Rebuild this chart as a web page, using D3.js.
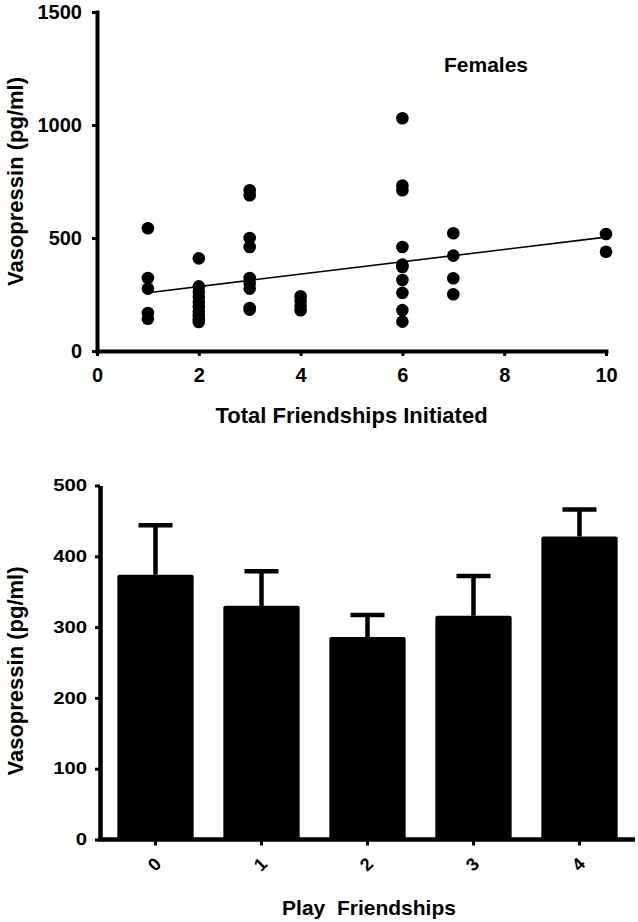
<!DOCTYPE html>
<html>
<head>
<meta charset="utf-8">
<script src="https://cdn.jsdelivr.net/npm/d3@7"></script>
<style>
  html, body { margin: 0; padding: 0; background: #fff; }
  svg { display: block; }
  text { font-family: "Liberation Sans", Arial, Helvetica, sans-serif; font-weight: bold; fill: #000; }
</style>
</head>
<body>
<svg id="chart" width="638" height="922"></svg>
<script>
// ---------- Data: top scatter (Females) ----------
const scatterX = [1,1,1,1,1,
                  2,2,2,2,2,2,2,2,2,2,
                  3,3,3,3,3,3,3,3,3,
                  4,4,4,4,
                  6,6,6,6,6,6,6,6,6,6,
                  7,7,7,7,
                  10,10];
const scatterY = [543,323,276,168,143,
                  410,286,262,240,218,197,175,155,140,128,
                  711,689,500,460,323,300,276,190,183,
                  242,222,200,180,
                  1030,732,711,460,382,372,314,257,181,130,
                  521,422,322,251,
                  518,439];
const fitX = [1, 10];
const fitY = [258, 504];
const scatterXTicks = [0, 2, 4, 6, 8, 10];
const scatterYTicks = [0, 500, 1000, 1500];

// ---------- Data: bottom bar chart ----------
const barCategories = ["0", "1", "2", "3", "4"];
const barMeans = [374, 330, 286, 316, 428];
const barErrors = [70, 49, 31, 56, 38];
const barYTicks = [0, 100, 200, 300, 400, 500];

const svg = d3.select("#chart");

// ================= TOP CHART =================
const xT = d3.scaleLinear().domain([0, 10]).range([97, 606]);
const yT = d3.scaleLinear().domain([0, 1500]).range([351, 12]);
const gTop = svg.append("g");

const yAxisT = gTop.append("g").attr("transform", `translate(${xT(0)},0)`)
  .call(d3.axisLeft(yT).tickValues(scatterYTicks).tickSize(5).tickSizeOuter(0).tickPadding(10).tickFormat(d3.format("d")));
const xAxisT = gTop.append("g").attr("transform", `translate(0,${yT(0)})`)
  .call(d3.axisBottom(xT).tickValues(scatterXTicks).tickSize(5).tickSizeOuter(0).tickPadding(12).tickFormat(d3.format("d")));
[yAxisT, xAxisT].forEach(a => {
  a.select(".domain").attr("stroke", "#000").attr("stroke-width", 4).attr("stroke-linecap", "square");
  a.selectAll(".tick line").attr("stroke", "#000").attr("stroke-width", 3);
  a.selectAll(".tick text").style("font-size", "20px").attr("fill", "#000");
});

// regression line
gTop.append("line")
  .attr("x1", xT(fitX[0])).attr("y1", yT(fitY[0]))
  .attr("x2", xT(fitX[1])).attr("y2", yT(fitY[1]))
  .attr("stroke", "#000").attr("stroke-width", 1.6);

// points
gTop.append("g").selectAll("circle")
  .data(scatterX.map((x, i) => [x, scatterY[i]]))
  .join("circle")
  .attr("cx", d => xT(d[0])).attr("cy", d => yT(d[1]))
  .attr("r", 6.3).attr("fill", "#000");

// labels
gTop.append("text").attr("x", 486).attr("y", 72).attr("text-anchor", "middle")
  .style("font-size", "21px").text("Females");
gTop.append("text").attr("x", (xT(0) + xT(10)) / 2).attr("y", 423).attr("text-anchor", "middle")
  .style("font-size", "22px").text("Total Friendships Initiated");
gTop.append("text").attr("transform", `translate(23,${(yT(0) + yT(1500)) / 2}) rotate(-90)`)
  .attr("text-anchor", "middle").style("font-size", "22px").text("Vasopressin (pg/ml)");

// ================= BOTTOM CHART =================
const xB = d3.scaleBand().domain(barCategories).range([102.5, 632.5]).paddingInner(0.28).paddingOuter(0.14);
const yB = d3.scaleLinear().domain([0, 500]).range([839.5, 485.5]);
const gBot = svg.append("g");
const barData = barCategories.map((c, i) => ({ c, m: barMeans[i], e: barErrors[i] }));

// bars
gBot.append("g").selectAll("rect")
  .data(barData)
  .join("rect")
  .attr("x", d => xB(d.c)).attr("width", xB.bandwidth())
  .attr("y", d => yB(d.m)).attr("height", d => yB(0) - yB(d.m))
  .attr("rx", 2).attr("fill", "#000");

// error bars
const eb = gBot.append("g").selectAll("g").data(barData).join("g");
eb.append("line")
  .attr("x1", d => xB(d.c) + xB.bandwidth() / 2).attr("x2", d => xB(d.c) + xB.bandwidth() / 2)
  .attr("y1", d => yB(d.m)).attr("y2", d => yB(d.m + d.e))
  .attr("stroke", "#000").attr("stroke-width", 4.5);
eb.append("line")
  .attr("x1", d => xB(d.c) + xB.bandwidth() / 2 - 17).attr("x2", d => xB(d.c) + xB.bandwidth() / 2 + 17)
  .attr("y1", d => yB(d.m + d.e)).attr("y2", d => yB(d.m + d.e))
  .attr("stroke", "#000").attr("stroke-width", 4.5);

// y axis
const yAxisB = gBot.append("g").attr("transform", "translate(100,0)")
  .call(d3.axisLeft(yB).tickValues(barYTicks).tickSize(5).tickSizeOuter(0).tickPadding(8).tickFormat(d3.format("d")));
yAxisB.select(".domain").attr("stroke", "#000").attr("stroke-width", 4.5);
yAxisB.selectAll(".tick line").attr("stroke", "#000").attr("stroke-width", 3);
yAxisB.selectAll(".tick text")
  .style("font-size", "16px").attr("fill", "#000")
  .attr("x", 0).attr("transform", "translate(-13,0) scale(1.27,1)");

// x axis
const xAxisB = gBot.append("g").attr("transform", `translate(0,${yB(0)})`)
  .call(d3.axisBottom(xB).tickSize(6).tickSizeOuter(0).tickPadding(0));
xAxisB.select(".domain").remove();
xAxisB.append("line").attr("x1", 98).attr("x2", 635).attr("y1", 0).attr("y2", 0)
  .attr("stroke", "#000").attr("stroke-width", 4.5);
xAxisB.selectAll(".tick line").attr("stroke", "#000").attr("stroke-width", 3);
xAxisB.selectAll(".tick text")
  .style("font-size", "18px").attr("fill", "#000")
  .attr("y", 0).attr("dy", null)
  .attr("dominant-baseline", "central").attr("text-anchor", "middle")
  .attr("transform", "translate(-1,25) rotate(-45)");

// titles
gBot.append("text").attr("x", 369).attr("y", 915).attr("text-anchor", "middle")
  .style("font-size", "21px").style("white-space", "pre").text("Play  Friendships");
gBot.append("text").attr("transform", "translate(23,671) rotate(-90)")
  .attr("text-anchor", "middle").style("font-size", "22px").text("Vasopressin (pg/ml)");
</script>
</body>
</html>
